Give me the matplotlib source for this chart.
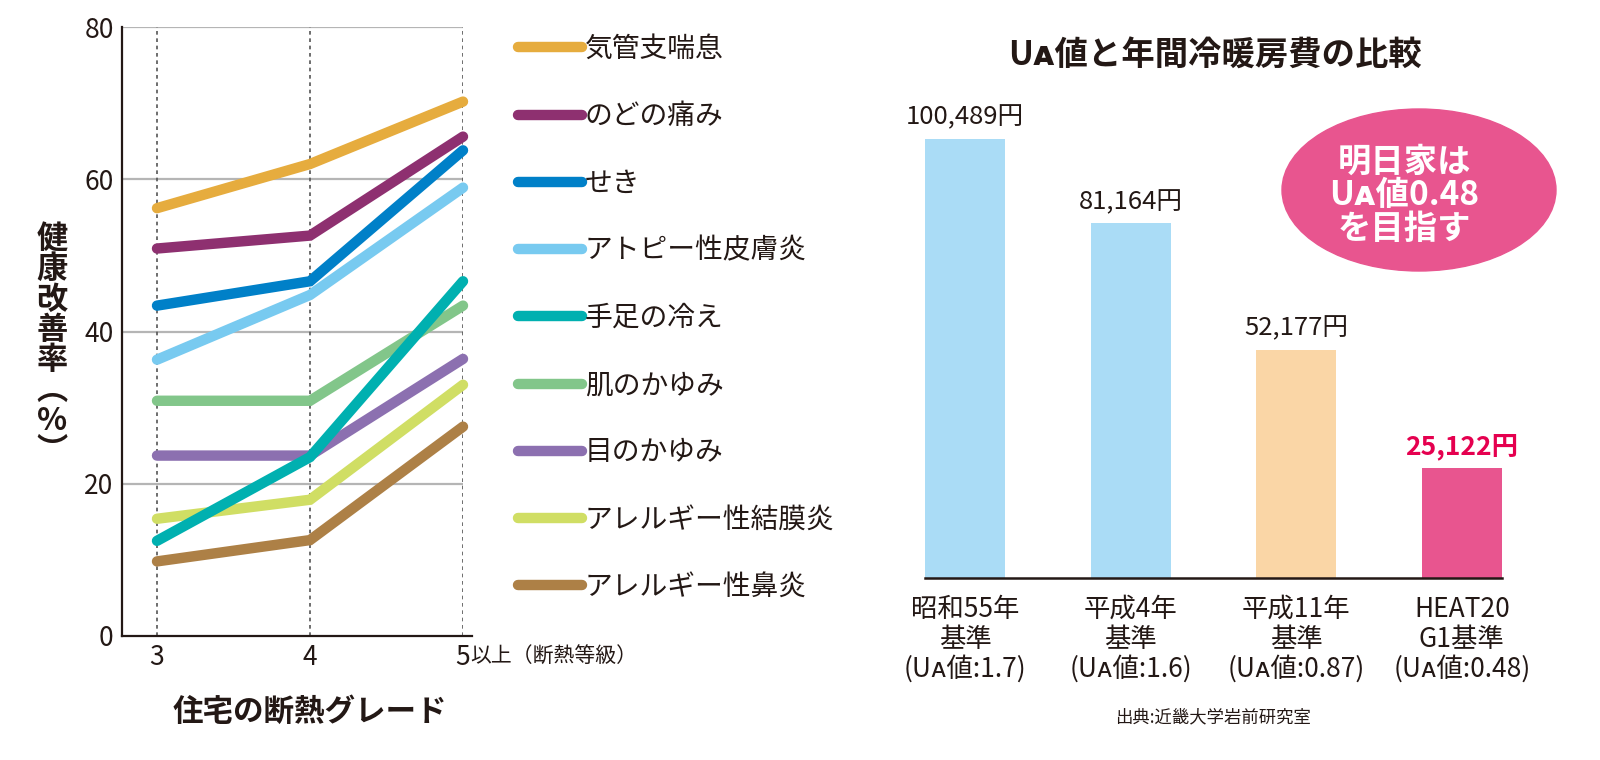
import matplotlib
matplotlib.use("Agg")
import matplotlib.pyplot as plt
from matplotlib.patches import Ellipse

plt.rcParams['font.family'] = ['Noto Sans CJK JP', 'DejaVu Sans']

INK = '#231815'

# 左: 断熱等級ごとの健康改善率
grades = [3, 4, 5]
symptoms = ['気管支喘息', 'のどの痛み', 'せき', 'アトピー性皮膚炎', '手足の冷え',
            '肌のかゆみ', '目のかゆみ', 'アレルギー性結膜炎', 'アレルギー性鼻炎']
line_colors = ['#e6ac3e', '#8e3070', '#0080c8', '#78caf0', '#00b0b0',
               '#82c68a', '#8c70b0', '#d0de64', '#ad8046']
rates = [
    [56.2, 62.0, 70.2],
    [50.9, 52.6, 65.6],
    [43.4, 46.6, 63.8],
    [36.3, 44.8, 58.9],
    [12.5, 23.5, 46.6],
    [30.9, 30.9, 43.4],
    [23.7, 23.7, 36.4],
    [15.4, 17.9, 33.0],
    [9.8, 12.6, 27.5],
]
yticks = [0, 20, 40, 60, 80]

# 右: UA値と年間冷暖房費
standards = ['昭和55年\n基準\n(Uᴀ値:1.7)', '平成4年\n基準\n(Uᴀ値:1.6)',
             '平成11年\n基準\n(Uᴀ値:0.87)', 'HEAT20\nG1基準\n(Uᴀ値:0.48)']
costs = [100489, 81164, 52177, 25122]
bar_colors = ['#aadcf6', '#aadcf6', '#fad6a6', '#e8558f']

fig = plt.figure(figsize=(16, 7.6), dpi=100)

# ---- 折れ線 ----
ax1 = fig.add_axes([122/1600, 1-636/760, (463-122)/1600, (636-27)/760])
for i, (name, vals) in enumerate(zip(symptoms, rates)):
    z = 3 + i
    if name == '手足の冷え':
        z = 20
    ax1.plot(grades, vals, color=line_colors[i], lw=7.5, label=name,
             solid_capstyle='round', solid_joinstyle='miter', zorder=z, clip_on=False)

ax1.set_xlim(3 - 35/153, 5)
ax1.set_ylim(0, 80)
ax1.set_yticks(yticks)
for y in yticks[1:]:
    ax1.axhline(y, color='#b5b5b5', lw=1.6, zorder=1)
for g in grades:
    ax1.axvline(g, color='#555555', lw=1.2, ls=(0, (2.2, 2.2)), zorder=2)
for s in ['top', 'right']:
    ax1.spines[s].set_visible(False)
for s in ['left', 'bottom']:
    ax1.spines[s].set_color(INK)
    ax1.spines[s].set_linewidth(1.6)
ax1.spines['bottom'].set_bounds(2.771, 5.06)
ax1.set_xticks(grades)
ax1.set_xticklabels(['3', '4', '5'])
ax1.tick_params(length=0, labelsize=19, colors=INK, pad=6)
ax1.text(5.045, -0.016, '以上（断熱等級）', transform=ax1.get_xaxis_transform(),
         ha='left', va='top', fontsize=15, color=INK)

fig.text(52/1600, 1-345/760, '\n'.join(list('健康改善率')) + '\n︵\n%\n︶',
         ha='center', va='center', fontsize=22.5, fontweight='bold', color=INK,
         linespacing=0.93)
fig.text(310/1600, 1-712/760, '住宅の断熱グレード', ha='center', va='center',
         fontsize=22, fontweight='bold', color=INK)

leg = ax1.legend(loc='upper left', bbox_to_anchor=(507/1600, 1-23/760),
                 bbox_transform=fig.transFigure, frameon=False, fontsize=20,
                 handlelength=2.3, handletextpad=0.1, labelspacing=1.34,
                 borderaxespad=0)
for t in leg.get_texts():
    t.set_color(INK)

# ---- 棒グラフ ----
ax2 = fig.add_axes([925/1600, 1-578/760, 577/1600, (578-60)/760])
xs = range(len(costs))
bw = 80/165
ax2.bar(xs, costs, width=bw, color=bar_colors, zorder=2)
ax2.set_xlim(-bw/2, 3 + bw/2)
ax2.set_ylim(0, 118570)
for s in ['top', 'right', 'left']:
    ax2.spines[s].set_visible(False)
ax2.spines['bottom'].set_color(INK)
ax2.spines['bottom'].set_linewidth(1.8)
ax2.set_yticks([])
ax2.set_xticks(list(xs))
ax2.set_xticklabels(standards, fontsize=19, color=INK, linespacing=1.12)
ax2.tick_params(axis='x', length=0, pad=13)

for x, v in zip(xs, costs):
    red = x == len(costs) - 1
    ax2.annotate(f'{v:,}円', (x, v), xytext=(0, 6), textcoords='offset points',
                 ha='center', va='bottom', fontsize=19 if red else 18.5,
                 color='#e5004f' if red else INK,
                 fontweight='bold' if red else 'normal')

fig.text(1215/1600, 1-55/760, 'Uᴀ値と年間冷暖房費の比較', ha='center', va='center',
         fontsize=24, fontweight='bold', color=INK)

fig.add_artist(Ellipse((1419/1600, 1-190/760), 274/1600, 162/760,
                       transform=fig.transFigure, color='#e8558f', zorder=5))
fig.text(1404/1600, 1-196/760, '明日家は\nUᴀ値0.48\nを目指す', ha='center', va='center',
         fontsize=24, fontweight='bold', color='white', linespacing=1.03, zorder=6)

fig.text(1213/1600, 1-717/760, '出典:近畿大学岩前研究室', ha='center', va='center',
         fontsize=12.5, color=INK)

fig.savefig('out.png', dpi=100, facecolor='white')
